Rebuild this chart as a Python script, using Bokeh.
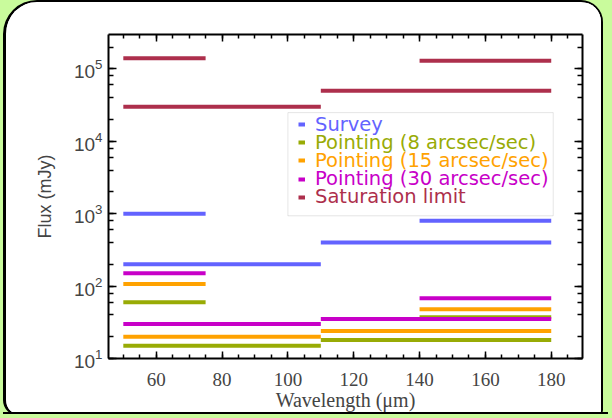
from bokeh.plotting import figure
from bokeh.models import (LinearAxis, LogAxis, SingleIntervalTicker, LogTicker, Legend, LegendItem,
                          BoxAnnotation, GlobalInlineStyleSheet, InlineStyleSheet, ColumnDataSource,
                          CustomJSTickFormatter)
from bokeh.embed import file_html
from bokeh.resources import INLINE

# ---- data ----
series = ["Survey", "Pointing (8 arcsec/sec)", "Pointing (15 arcsec/sec)",
          "Pointing (30 arcsec/sec)", "Saturation limit"]
colors = ["#6363ff", "#98ab05", "#ffa200", "#c800c8", "#ad2f4c"]

band_start = [50, 50, 110, 140]   # wavelength band start (um)
band_end = [75, 110, 180, 180]    # wavelength band end (um)

survey = [1000, 200, 400, 800]
pointing8 = [60, 15, 18, 37]
pointing15 = [107, 20, 24, 48]
pointing30 = [150, 30, 35, 68]
saturation = [1.4e5, 3.0e4, 5.0e4, 1.3e5]

values = [survey, pointing8, pointing15, pointing30, saturation]
draw_order = [0, 1, 2, 4, 3]

x_ticks_interval = 20

p = figure(width=600, height=416, x_range=(45.5, 189.5), y_range=(10, 10 ** 5.475),
           y_axis_type="log", output_backend="svg", toolbar_location=None,
           min_border_left=102, min_border_right=24, min_border_top=32, min_border_bottom=60)
p.background_fill_color = "white"
p.border_fill_color = "white"
p.outline_line_color = None
p.xgrid.visible = False
p.ygrid.visible = False

renderers = {}
for i in draw_order:
    src = ColumnDataSource(dict(x0=band_start, x1=band_end, y=values[i]))
    renderers[i] = p.segment(x0="x0", y0="y", x1="x1", y1="y", source=src, line_width=4,
                             line_color=colors[i], line_cap="butt")

# ---- axes ----
xt = SingleIntervalTicker(interval=x_ticks_interval, num_minor_ticks=4)
yt = LogTicker()
blank = CustomJSTickFormatter(code="return ''")

def style_common(ax, tin, tmin):
    ax.axis_line_width = 2
    ax.major_tick_in = tin
    ax.major_tick_out = 0
    ax.minor_tick_in = tmin
    ax.minor_tick_out = 0
    ax.major_tick_line_width = 1.5
    ax.minor_tick_line_width = 1.5

bx = p.xaxis[0]
bx.ticker = xt
style_common(bx, 7, 4)
bx.major_label_text_font = "Liberation Serif"
bx.major_label_text_font_size = "19px"
bx.major_label_standoff = 14
bx.axis_label = "Wavelength (\u03bcm)"
bx.axis_label_text_font = "Liberation Serif"
bx.axis_label_text_font_size = "20px"
bx.axis_label_text_font_style = "normal"
bx.axis_label_standoff = 0

ly = p.yaxis[0]
ly.ticker = yt
style_common(ly, 8, 5)
ly.major_label_text_font = "Liberation Sans"
ly.major_label_text_font_size = "19px"
ly.major_label_standoff = 6
ly.axis_label = "Flux (mJy)"
ly.axis_label_text_font = "Liberation Sans"
ly.axis_label_text_font_size = "18px"
ly.axis_label_text_font_style = "normal"
ly.axis_label_standoff = 16

top_ax = LinearAxis(ticker=xt, formatter=blank, major_label_standoff=0)
style_common(top_ax, 7, 4)
p.add_layout(top_ax, "above")
right_ax = LogAxis(ticker=yt, formatter=blank, major_label_standoff=0)
style_common(right_ax, 8, 5)
p.add_layout(right_ax, "right")

# ---- legend ----
box = BoxAnnotation(left=100, right=180.6, bottom=935, top=24900, fill_color="white",
                    fill_alpha=1, line_color="#a8a8a8", line_width=1)
p.add_layout(box)

legend_x = 190
legend_y = [222.5, 204.5, 186.5, 167.6, 149.9]
for i in range(5):
    leg = Legend(items=[LegendItem(label=series[i], renderers=[renderers[i]])],
                 location=(legend_x, legend_y[i]), padding=0, margin=0, spacing=0,
                 border_line_alpha=0, background_fill_alpha=0,
                 glyph_width=7, glyph_height=22, label_standoff=10, label_height=22,
                 label_text_font="DejaVu Sans", label_text_font_size="19.5px",
                 label_text_color=colors[i], label_text_baseline="alphabetic")
    p.add_layout(leg, "center")

p.stylesheets = [
    GlobalInlineStyleSheet(css=(
        "html,body{margin:0;padding:0;background:#c9fb9c;overflow:hidden;} body{padding-left:3px;}"
        "body::after{content:'';position:fixed;left:3px;right:4px;top:412px;bottom:0;"
        "background:#c9fb9c;border-top:2px solid #000;z-index:10;}")),
    InlineStyleSheet(css=":host{border:2px solid #000;border-left-width:3px;"
                         "border-radius:34px 22px 6px 16px;overflow:hidden;background:#fff;}"),
]

open("out.html", "w").write(file_html(p, INLINE))
